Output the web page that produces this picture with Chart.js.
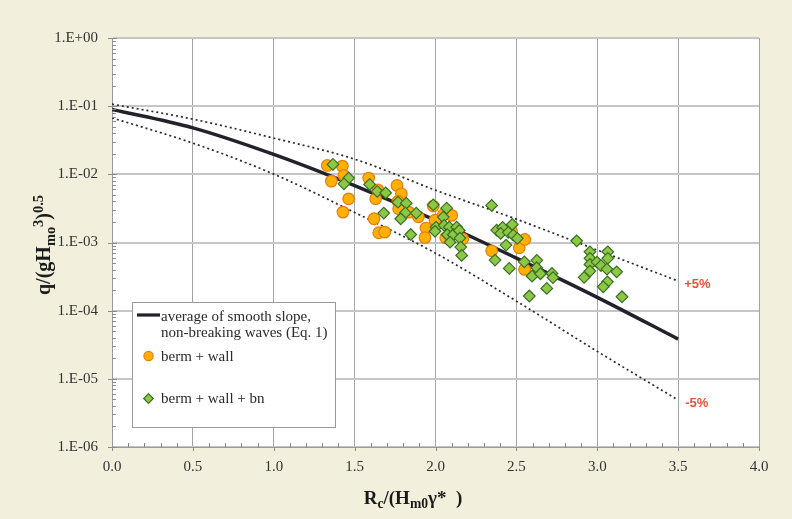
<!DOCTYPE html>
<html>
<head>
<meta charset="utf-8">
<script src="https://cdn.jsdelivr.net/npm/chart.js@4.4.1/dist/chart.umd.min.js"></script>
<style>
  html,body{margin:0;padding:0;background:rgb(242,240,221);}
  #wrap{position:relative;width:792px;height:519px;overflow:hidden;}
  canvas{position:absolute;left:0;top:0;}
  .ttl{position:absolute;font-family:"Liberation Serif","Times New Roman",serif;font-weight:bold;color:#1a1a1a;white-space:pre;line-height:1;}
  .sb{font-size:72%;position:relative;top:0.32em;}
  .sp{font-size:72%;position:relative;top:-0.5em;}
  #ytitle{left:43px;top:245px;font-size:20px;transform:translate(-50%,-50%) rotate(-90deg);}
  #xtitle{left:413px;top:497px;font-size:19px;transform:translate(-50%,-50%);}
</style>
</head>
<body>
<div id="wrap">
  <canvas id="c" width="792" height="519"></canvas>
  <div id="ytitle" class="ttl">q/(gH<span class="sb">mo</span><span class="sp">3</span>)<span class="sp">0.5</span></div>
  <div id="xtitle" class="ttl">R<span class="sb">c</span>/(H<span class="sb">m0</span>γ*  )</div>
</div>
<script>
// ---------- data ----------
const curveRc = [0, 0.5, 1.0, 1.5, 2.0, 2.5, 3.0, 3.5];
const meanQ   = [0.0895, 0.0481, 0.0196, 0.00682, 0.00212, 0.00059, 0.000157, 0.0000383];
const plus5Q  = [0.107, 0.0645, 0.034, 0.0167, 0.00586, 0.0022, 0.000774, 0.000272];
const minus5Q = [0.0673, 0.0287, 0.01007, 0.00276, 0.000698, 0.000138, 0.0000253, 0.00000489];

const bermWallRc = [1.331,1.424,1.356,1.434,1.463,1.428,1.587,1.644,1.630,1.620,1.649,1.686,1.762,1.789,1.768,1.772,1.834,1.894,1.941,1.935,1.986,1.997,2.063,2.048,2.100,2.168,2.347,2.518,2.552,2.551,2.471];
const bermWallQ  = [0.0135,0.0132,0.00795,0.00964,0.00437,0.00279,0.00880,0.00593,0.00437,0.00223,0.00139,0.00142,0.00687,0.00518,0.00401,0.00312,0.00279,0.00238,0.00163,0.00118,0.00342,0.00213,0.00117,0.00255,0.00250,0.00113,0.000755,0.000836,0.00111,0.000403,0.00144];

const bermWallBnRc = [1.366,1.463,1.434,1.593,1.640,1.692,1.768,1.819,1.813,1.785,1.680,1.881,1.847,1.986,2.069,2.048,2.003,2.054,2.085,2.131,1.997,2.073,2.110,2.147,2.090,2.151,2.156,2.162,2.347,2.378,2.415,2.475,2.403,2.450,2.481,2.506,2.436,2.368,2.456,2.549,2.626,2.626,2.597,2.649,2.720,2.726,2.688,2.580,2.873,2.955,3.065,2.955,3.065,2.955,2.998,3.023,2.955,3.060,3.120,2.919,3.063,3.037,3.153];
const bermWallBnQ  = [0.01397,0.00880,0.00726,0.00711,0.00561,0.00536,0.00391,0.00378,0.00272,0.00223,0.00270,0.00270,0.00131,0.00357,0.00319,0.00236,0.00168,0.00178,0.00168,0.00168,0.00146,0.00130,0.00130,0.00150,0.00101,0.00116,0.000857,0.000647,0.00350,0.00152,0.00166,0.00184,0.00136,0.00141,0.00128,0.00115,0.000916,0.000552,0.000417,0.000521,0.000547,0.000426,0.000321,0.000348,0.000352,0.000306,0.000212,0.000164,0.00106,0.000731,0.000731,0.000585,0.000585,0.000477,0.000516,0.000458,0.000381,0.000407,0.000372,0.000308,0.000265,0.000224,0.000160];

const xTickValues = [0,0.5,1.0,1.5,2.0,2.5,3.0,3.5,4.0];
const xTickLabels = ['0.0','0.5','1.0','1.5','2.0','2.5','3.0','3.5','4.0'];
const yTickValues = [1e-6,1e-5,1e-4,1e-3,1e-2,1e-1,1];
const yTickLabels = ['1.E-06','1.E-05','1.E-04','1.E-03','1.E-02','1.E-01','1.E+00'];

const meanLabel   = 'average of smooth slope, non-breaking waves (Eq. 1)';
const meanLegendLines = ['average of smooth slope,', 'non-breaking waves (Eq. 1)'];
const bwLabel     = 'berm + wall';
const bwbnLabel   = 'berm + wall + bn';
const plusLabel   = '+5%';
const minusLabel  = '-5%';

// ---------- helpers ----------
const pts = (xs, ys) => xs.map((x, i) => ({x: x, y: ys[i]}));
const SERIF = '"Liberation Serif","Times New Roman",serif';
const ORANGE_FILL = '#FFB000', ORANGE_EDGE = '#E37E12';
const GREEN_FILL = '#8DC845', GREEN_EDGE = '#3A6E27';
const LINE_DARK = '#22222c';

const deco = {
  id: 'deco',
  beforeDraw(chart) {
    const {ctx, chartArea: a} = chart;
    ctx.save();
    ctx.fillStyle = 'rgb(242,240,221)';
    ctx.fillRect(0, 0, chart.width, chart.height);
    ctx.fillStyle = '#ffffff';
    ctx.fillRect(a.left, a.top, a.right - a.left, a.bottom - a.top);
    ctx.restore();
  },
  afterDraw(chart) {
    const {ctx, chartArea: a, scales: {x, y}} = chart;
    ctx.save();
    // minor & major ticks
    ctx.strokeStyle = '#8a8a8a';
    ctx.lineWidth = 1;
    ctx.beginPath();
    for (let d = -6; d < 0; d++) {
      for (let m = 2; m <= 9; m++) {
        const py = Math.round(y.getPixelForValue(m * Math.pow(10, d))) + 0.5;
        ctx.moveTo(a.left, py); ctx.lineTo(a.left + 4, py);
      }
    }
    yTickValues.forEach(v => {
      const py = Math.round(y.getPixelForValue(v)) + 0.5;
      ctx.moveTo(a.left - 4, py); ctx.lineTo(a.left + 5, py);
    });
    for (let k = 1; k < 40; k++) {
      if (k % 5 === 0) continue;
      const px = Math.round(x.getPixelForValue(k / 10)) + 0.5;
      ctx.moveTo(px, a.bottom); ctx.lineTo(px, a.bottom - 4);
    }
    xTickValues.forEach(v => {
      const px = Math.round(x.getPixelForValue(v)) + 0.5;
      ctx.moveTo(px, a.bottom); ctx.lineTo(px, a.bottom + 4);
    });
    ctx.stroke();

    // +5% / -5% labels
    const last = curveRc.length - 1;
    const ex = x.getPixelForValue(curveRc[last]);
    ctx.fillStyle = '#E0553A';
    ctx.font = 'bold 13px "Liberation Sans", Arial, sans-serif';
    ctx.textAlign = 'left';
    ctx.textBaseline = 'middle';
    ctx.fillText(plusLabel, ex + 6, y.getPixelForValue(plus5Q[last]) + 3);
    ctx.fillText(minusLabel, ex + 7, y.getPixelForValue(minus5Q[last]) + 3);

    // legend
    const L = 132, T = 302, R = 335, B = 427;
    ctx.fillStyle = '#ffffff';
    ctx.fillRect(L, T, R - L, B - T);
    ctx.strokeStyle = '#9a9a9a';
    ctx.lineWidth = 1;
    ctx.strokeRect(L + 0.5, T + 0.5, R - L, B - T);

    ctx.strokeStyle = LINE_DARK;
    ctx.lineWidth = 3.2;
    ctx.beginPath(); ctx.moveTo(137, 315); ctx.lineTo(160, 315); ctx.stroke();

    ctx.fillStyle = ORANGE_FILL; ctx.strokeStyle = ORANGE_EDGE; ctx.lineWidth = 1.2;
    ctx.beginPath(); ctx.arc(148.5, 356, 4.6, 0, Math.PI * 2); ctx.fill(); ctx.stroke();

    ctx.fillStyle = GREEN_FILL; ctx.strokeStyle = GREEN_EDGE; ctx.lineWidth = 1.2;
    ctx.beginPath();
    ctx.moveTo(148.5, 398.5 - 4.8); ctx.lineTo(148.5 + 4.8, 398.5);
    ctx.lineTo(148.5, 398.5 + 4.8); ctx.lineTo(148.5 - 4.8, 398.5); ctx.closePath();
    ctx.fill(); ctx.stroke();

    ctx.fillStyle = '#2a2a2a';
    ctx.font = '15px ' + SERIF;
    ctx.textAlign = 'left';
    ctx.textBaseline = 'middle';
    ctx.fillText(meanLegendLines[0], 161, 317);
    ctx.fillText(meanLegendLines[1], 161, 333.5);
    ctx.fillText(bwLabel, 161, 357);
    ctx.fillText(bwbnLabel, 161, 399);
    ctx.restore();
  }
};

new Chart(document.getElementById('c'), {
  type: 'scatter',
  data: {
    datasets: [
      { label: bwbnLabel, data: pts(bermWallBnRc, bermWallBnQ), order: 0,
        pointStyle: 'rectRot', pointRadius: 5.8, pointBorderWidth: 1.2,
        backgroundColor: GREEN_FILL, borderColor: GREEN_EDGE },
      { label: bwLabel, data: pts(bermWallRc, bermWallQ), order: 1,
        pointStyle: 'circle', pointRadius: 5.8, pointBorderWidth: 1.2,
        backgroundColor: ORANGE_FILL, borderColor: ORANGE_EDGE },
      { label: meanLabel, data: pts(curveRc, meanQ), order: 2, showLine: true,
        pointRadius: 0, borderColor: LINE_DARK, borderWidth: 3.5,
        cubicInterpolationMode: 'monotone' },
      { label: plusLabel, data: pts(curveRc, plus5Q), order: 3, showLine: true,
        pointRadius: 0, borderColor: '#2a2a2a', borderWidth: 1.7, borderDash: [2, 3],
        cubicInterpolationMode: 'monotone' },
      { label: minusLabel, data: pts(curveRc, minus5Q), order: 3, showLine: true,
        pointRadius: 0, borderColor: '#2a2a2a', borderWidth: 1.7, borderDash: [2, 3],
        cubicInterpolationMode: 'monotone' }
    ]
  },
  options: {
    responsive: false,
    animation: false,
    devicePixelRatio: 1,
    layout: { padding: { top: 38, right: 33, left: 0, bottom: 0 } },
    plugins: { legend: { display: false }, tooltip: { enabled: false }, title: { display: false } },
    scales: {
      x: {
        type: 'linear', min: 0, max: 4,
        afterBuildTicks: s => { s.ticks = xTickValues.map(v => ({value: v})); },
        afterFit: s => { s.height = 72; },
        ticks: { callback: (v, i) => xTickLabels[i], font: { family: SERIF, size: 15 }, color: '#333',
                 padding: 11, maxRotation: 0, autoSkip: false },
        grid: { color: '#a3a3a3', lineWidth: 1, drawTicks: false },
        border: { color: '#9a9a9a', width: 1 }
      },
      y: {
        type: 'logarithmic', min: 1e-6, max: 1,
        afterBuildTicks: s => { s.ticks = yTickValues.map(v => ({value: v})); },
        afterFit: s => { s.width = 112; },
        ticks: { callback: (v, i) => yTickLabels[i], font: { family: SERIF, size: 15 }, color: '#333',
                 padding: 14, autoSkip: false },
        grid: { color: '#c6c6c6', lineWidth: 2, drawTicks: false },
        border: { color: '#9a9a9a', width: 1 }
      }
    }
  },
  plugins: [deco]
});
</script>
</body>
</html>
